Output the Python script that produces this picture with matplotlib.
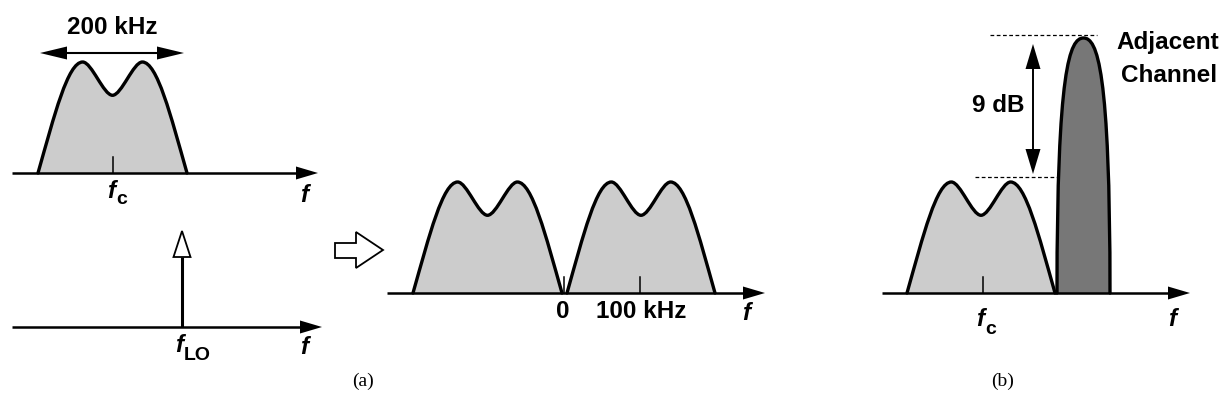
import matplotlib
matplotlib.use('Agg')
import matplotlib.pyplot as plt
from matplotlib.path import Path
from matplotlib.patches import PathPatch, Polygon

# ---------------- data ----------------
# Double-hump channel spectrum: Bezier control points (normalized width / height)
hump_x = [0.0, 0.11, 0.20, 0.30, 0.36, 0.44, 0.50, 0.56, 0.64, 0.70, 0.80, 0.89, 1.0]
hump_y = [0.0, 0.52, 1.00, 1.00, 1.00, 0.70, 0.70, 0.70, 1.00, 1.00, 1.00, 0.52, 0.0]
# Narrow, tall adjacent-channel spectrum
adj_x = [0.0, 0.0, 0.24, 0.5, 0.76, 1.0, 1.0]
adj_y = [0.0, 0.88, 1.0, 1.0, 1.0, 0.88, 0.0]
# relative levels
channel_level = 1.0
adjacent_level = 2.3
# labels
bw_label = "200 kHz"
mid_tick_labels = ["0", "100 kHz"]
db_label = "9 dB"
adj_label = ["Adjacent", "Channel"]
captions = ["(a)", "(b)"]

# ---------------- style ----------------
SANS = 'Liberation Sans'
FS = 17.5
FS_SUB = 14
LIGHT = '#cccccc'
DARK = '#777777'
LW_CURVE = 2.4
LW_AXIS = 1.8

W, H = 1224, 409
fig = plt.figure(figsize=(W / 100, H / 100), dpi=100)
ax = fig.add_axes([0, 0, 1, 1])
ax.set_xlim(0, W)
ax.set_ylim(H, 0)
ax.axis('off')


def head(tip, direction, length, width, fc='black', ec='black', lw=0.0, z=5):
    tx, ty = tip
    dx, dy = direction
    bx, by = tx - dx * length, ty - dy * length
    px, py = -dy, dx
    pts = [(tx, ty), (bx + px * width / 2, by + py * width / 2),
           (bx - px * width / 2, by - py * width / 2)]
    ax.add_patch(Polygon(pts, closed=True, fc=fc, ec=ec, lw=lw, joinstyle='miter', zorder=z))


def freq_axis(x0, x1, y):
    ax.plot([x0, x1 - 18], [y, y], color='black', lw=LW_AXIS, solid_capstyle='butt', zorder=3)
    head((x1, y), (1, 0), 22, 13)


def spectrum(xs, ys, x0, x1, base, height, color):
    verts = [(x0 + u * (x1 - x0), base - v * height) for u, v in zip(xs, ys)]
    codes = [Path.MOVETO] + [Path.CURVE4] * (len(verts) - 1)
    fill_verts = verts + [(verts[0][0], base), (verts[0][0], base)]
    fill_codes = codes + [Path.LINETO, Path.CLOSEPOLY]
    ax.add_patch(PathPatch(Path(fill_verts, fill_codes), fc=color, ec='none', zorder=1))
    ax.add_patch(PathPatch(Path(verts, codes), fc='none', ec='black', lw=LW_CURVE,
                           capstyle='round', joinstyle='round', zorder=2))


def tick(x, y):
    ax.plot([x, x], [y - 16, y], color='black', lw=1.1, zorder=3)


def label(x, y, s, size=FS, **kw):
    ax.text(x, y, s, ha='center', va='center', fontsize=size, family=SANS,
            fontweight='bold', **kw)


def flabel(x, y, sub=None, sub_dx=0, sub_dy=9):
    ax.text(x, y, 'f', ha='center', va='center', fontsize=FS, family=SANS,
            fontweight='bold', fontstyle='italic')
    if sub:
        ax.text(x + 5, y + sub_dy, sub, ha='left', va='center', fontsize=FS_SUB,
                family=SANS, fontweight='bold')


UNIT = 111  # px per unit level

# ---- panel (a) top: RF channel ----
spectrum(hump_x, hump_y, 38, 187, 173, channel_level * UNIT, LIGHT)
freq_axis(12, 318, 173)
tick(113, 173)
ax.plot([55, 169], [53, 53], color='black', lw=1.5, zorder=3)
head((40, 53), (-1, 0), 27, 13)
head((184, 53), (1, 0), 27, 13)
label(112, 27, bw_label)
flabel(111, 191, 'c')
flabel(304, 195)

# ---- panel (a) bottom: LO ----
freq_axis(12, 322, 327)
ax.plot([182, 182], [327, 257], color='black', lw=2.2, solid_capstyle='butt', zorder=3)
head((182, 231), (0, -1), 26, 17, fc='white', ec='black', lw=1.3)
flabel(179, 346, 'LO')
flabel(304, 347)

# ---- hollow block arrow ----
blk = [(335, 243), (356, 243), (356, 232), (383, 250), (356, 268), (356, 258), (335, 258)]
ax.add_patch(Polygon(blk, closed=True, fc='white', ec='black', lw=1.3, joinstyle='miter'))

# ---- panel (a) right: baseband ----
spectrum(hump_x, hump_y, 413, 562, 293, channel_level * UNIT, LIGHT)
spectrum(hump_x, hump_y, 567, 715, 293, channel_level * UNIT, LIGHT)
freq_axis(387, 765, 293)
tick(564, 293)
tick(640, 293)
label(563, 312, mid_tick_labels[0])
label(641, 312, mid_tick_labels[1])
flabel(746, 314)

# ---- panel (b) ----
spectrum(hump_x, hump_y, 907, 1055, 293, channel_level * UNIT, LIGHT)
spectrum(adj_x, adj_y, 1057, 1110, 293, adjacent_level * UNIT - 0.3, DARK)
freq_axis(882, 1190, 293)
tick(983, 293)
ax.plot([990, 1097], [35, 35], color='black', lw=0.9, ls=(0, (3, 2)), zorder=3)
ax.plot([975, 1057], [177, 177], color='black', lw=0.9, ls=(0, (3, 2)), zorder=3)
ax.plot([1033, 1033], [65, 153], color='black', lw=1.4, zorder=3)
head((1033, 44), (0, -1), 25, 15)
head((1033, 174), (0, 1), 25, 15)
label(998, 105, db_label)
label(1168, 43, adj_label[0])
label(1169, 76, adj_label[1])
flabel(980, 320, 'c')
flabel(1172, 320)

# ---- captions ----
ax.text(363, 381, captions[0], ha='center', va='center', fontsize=14, family='Liberation Serif')
ax.text(1003, 381, captions[1], ha='center', va='center', fontsize=14, family='Liberation Serif')

fig.savefig('out.png', dpi=100)
